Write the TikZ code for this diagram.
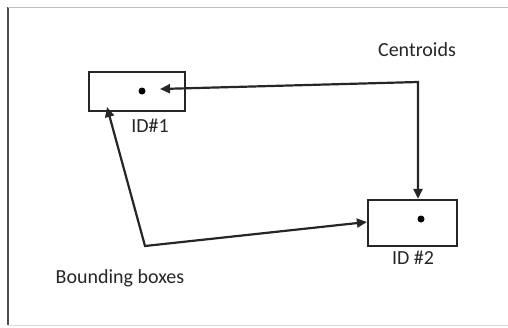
\documentclass[tikz,border=0pt]{standalone}
\usepackage{fontspec}
\setmainfont{Carlito}
\usetikzlibrary{arrows.meta,calc}
\begin{document}
\begin{tikzpicture}[x=1pt,y=-1pt,
  bbox/.style={draw=black!85,line width=2.2pt,rectangle,inner sep=0pt},
  cdot/.style={circle,fill=black,inner sep=0pt,minimum size=7pt},
  lbl/.style={font=\fontsize{20}{22}\selectfont,text=black!85,inner sep=0pt},
  arr/.style={line width=2.2pt,draw=black!85,{Triangle[length=10pt,width=9pt]}-{Triangle[length=10pt,width=9pt]}}]
\useasboundingbox (0,0) rectangle (508,327);
\fill[white] (0,0) rectangle (508,327);
\draw[black!70,line width=1.2pt] (8,325) -- (8,7);
\draw[black!25,line width=1pt] (8,7) -- (508,7);
\draw[black!15,line width=0.8pt] (8,325) -- (508,325);
\node[bbox,minimum width=96pt,minimum height=39pt] (box1) at (137,91.5) {};
\node[bbox,minimum width=89pt,minimum height=46pt] (box2) at (412.5,223) {};
\node[cdot] (dot1) at (142,91) {};
\node[cdot] (dot2) at (421,219) {};
\node[lbl] (t1) at (150,126) {ID\#1};
\node[lbl] (t2) at (413,258) {ID \#2};
\node[lbl] (tc) at (417,50) {Centroids};
\node[lbl] (tb) at (120,278) {Bounding boxes};
\coordinate (c1) at (418,82);
\coordinate (c2) at (145,246);
\coordinate (e1) at (160,89);
\coordinate (e2) at (107,107);
\draw[arr] (e1) -- (c1) -- (box2.north -| c1);
\draw[arr] (e2) -- (c2) -- ($(box2.west)+(0,-1)$);
\end{tikzpicture}
\end{document}
